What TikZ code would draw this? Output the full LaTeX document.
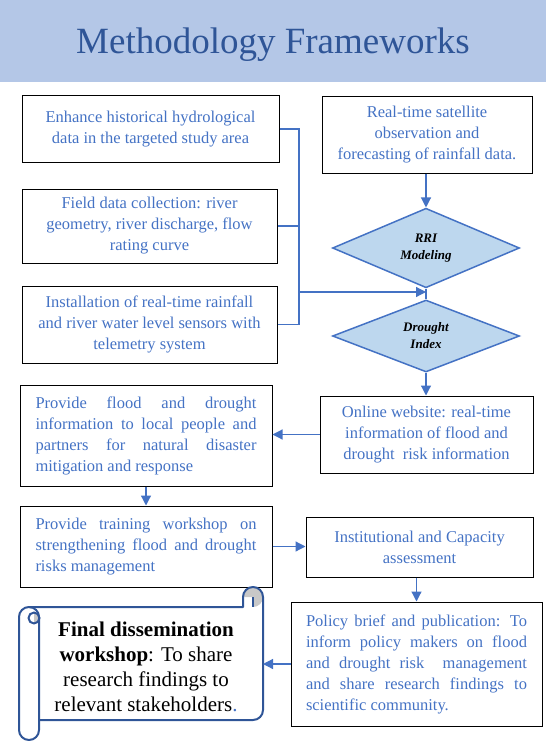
\documentclass[tikz,border=0pt]{standalone}
\usepackage{fontspec}
\setmainfont{Liberation Serif}
\usetikzlibrary{shapes.geometric,arrows.meta}

\definecolor{bandblue}{HTML}{B4C7E7}
\definecolor{titleblue}{HTML}{2F5597}
\definecolor{txtblue}{HTML}{4472C4}
\definecolor{diafill}{HTML}{BDD7EE}
\definecolor{rollgray}{HTML}{C8C8C8}

\newcommand{\jline}[1]{\makebox[221pt][s]{#1}\\}

\tikzset{
    box/.style={draw=black, line width=1pt, rectangle, inner sep=0pt, text=txtblue,
        font=\fontsize{16.5}{21}\selectfont, align=center},
    jbox/.style={box, align=left},
    decision/.style={diamond, draw=txtblue, line width=1.5pt, fill=diafill, inner sep=0pt,
        minimum width=187pt, minimum height=72pt, font=\fontsize{13}{17}\selectfont\bfseries\itshape, align=center},
    link/.style={draw=txtblue, line width=1.2pt},
    flow/.style={link, -{Triangle[length=10pt,width=10pt]}},
    scrollline/.style={draw=titleblue, line width=2pt, line join=round}
}

\begin{document}
\begin{tikzpicture}[x=1pt,y=-1pt]
    \useasboundingbox (0,0) rectangle (546,741);
    % title band
    \fill[bandblue] (0,0) rectangle (546,82);
    \node[anchor=base, text=titleblue, font=\fontsize{37}{44}\selectfont] (title) at (273,54) {Methodology Frameworks};

    % input boxes
    \node[box, minimum width=257pt, minimum height=66pt] (hist) at (150.5,129)
        {Enhance historical hydrological\\data in the targeted study area};
    \node[box, minimum width=255pt, minimum height=74pt] (field) at (149.5,226)
        {Field data collection: river\\geometry, river discharge, flow\\rating curve};
    \node[box, minimum width=255pt, minimum height=77pt] (sensor) at (149.5,324.5)
        {Installation of real-time rainfall\\and river water level sensors with\\telemetry system};
    \node[box, minimum width=210pt, minimum height=76pt] (sat) at (427,135)
        {Real-time satellite\\observation and\\forecasting of rainfall data.};

    % models
    \node[decision] (rri) at (426,248) {RRI\\Modeling};
    \node[decision] (drought) at (426,336) {Drought\\Index};

    % outputs
    \node[box, minimum width=213pt, minimum height=77pt] (online) at (426.5,434.5)
        {Online website: real-time\\information of flood and\\drought\ \ risk information};
    \node[jbox, minimum width=252pt, minimum height=101pt] (flood) at (146,435.5)
        {\jline{Provide flood and drought}\jline{information to local people and}\jline{partners for natural disaster}mitigation and response};
    \node[jbox, minimum width=252pt, minimum height=81pt] (train) at (146,546.5)
        {\jline{Provide training workshop on}\jline{strengthening flood and drought}risks management};
    \node[box, minimum width=227pt, minimum height=60pt] (inst) at (419.5,547)
        {Institutional and Capacity\\assessment};
    \node[jbox, minimum width=251pt, minimum height=124pt] (policy) at (416.5,664)
        {\jline{Policy brief and publication: To}\jline{inform policy makers on flood}\jline{and drought risk\ \ management}\jline{and share research findings to}scientific community.};

    % final scroll
    \fill[rollgray] (253,597) -- (243,597) arc (180:450:10) -- cycle;
    \fill[rollgray] (34,612.5) arc (-90:90:5.5) -- cycle;
    \draw[scrollline] (29,607) -- (243,607) -- (243,597) arc (180:360:10) -- (263,710) arc (0:90:10) -- (39,720);
    \draw[scrollline] (253,597) -- (253,607);
    \draw[scrollline] (39,617) -- (39,730) arc (0:180:10) -- (19,617) arc (180:360:10);
    \draw[scrollline] (34,618) circle (5.5);
    \node[font=\fontsize{21}{25}\selectfont, align=center] (final) at (146,667)
        {\textbf{Final dissemination}\\\textbf{workshop}: To share\\research findings to\\relevant stakeholders\textcolor{txtblue}{.}};
    \coordinate (scrollin) at (263,664);

    % connectors
    \coordinate (hub) at (299,292);
    \draw[link] (hist.east) -- (hist.east -| hub) -- (sensor.east -| hub) -- (sensor.east);
    \draw[link] (field.east) -- (field.east -| hub);
    \draw[flow] (hub) -- (hub -| rri.south);
    \draw[flow] (rri.north |- sat.south) -- (rri.north);
    \draw[link] (rri.south) -- (drought.north);
    \draw[flow] (drought.south) -- (drought.south |- online.north);
    \draw[flow] (online.west) -- (online.west -| flood.east);
    \draw[flow] (flood.south) -- (train.north);
    \draw[flow] (train.east) -- (train.east -| inst.west);
    \draw[flow] (policy.north |- inst.south) -- (policy.north);
    \draw[flow] (policy.west |- scrollin) -- (scrollin);
\end{tikzpicture}
\end{document}
